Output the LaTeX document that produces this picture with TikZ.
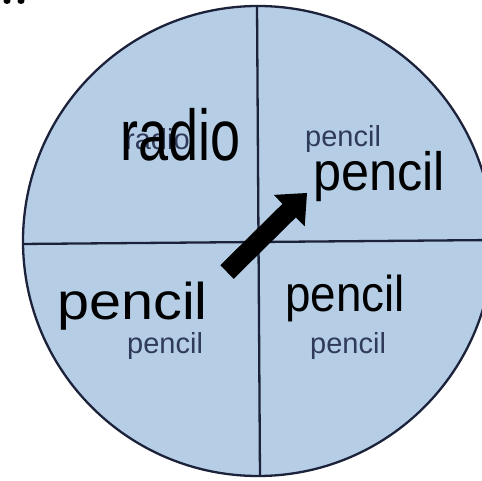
\documentclass[tikz,border=0pt]{standalone}
\usepackage{fontspec}
\setmainfont{Liberation Sans}
\definecolor{spinfill}{RGB}{181,206,230}
\definecolor{spinline}{RGB}{28,34,58}
\definecolor{printtxt}{RGB}{48,58,90}
\tikzset{
  printed/.style={anchor=base west, inner sep=0pt, text=printtxt, font=\fontsize{29}{30}\selectfont},
  hand/.style={anchor=base west, inner sep=0pt, text=black},
  divider/.style={draw=spinline, line width=2.3pt}
}
\begin{document}
\begin{tikzpicture}[x=1pt,y=-1pt]
\useasboundingbox (0,0) rectangle (482,481);
\clip (0,0) rectangle (482,481);
% spinner disc
\coordinate (c) at (258,241);
\fill[spinfill] (c) circle[radius=235];
\begin{scope}
  \clip (c) circle[radius=235];
  \coordinate (vt) at (257,4);
  \coordinate (vb) at (260,478);
  \coordinate (hl) at (20,244);
  \coordinate (hr) at (495,240);
  \draw[divider] (vt) -- (vb);
  \draw[divider] (hl) -- (hr);
\end{scope}
\draw[spinline, line width=2.3pt] (c) circle[radius=235];
% small marks at top-left corner
\fill[black] (7,1) ellipse[x radius=3.5, y radius=3];
\fill[black] (21,1) ellipse[x radius=3.5, y radius=3];
% printed labels
\node[printed] (pr) at (125,150) {radio};
\node[printed] (ptr) at (305,147) {pencil};
\node[printed] (pbl) at (127,353) {pencil};
\node[printed] (pbr) at (310,353) {pencil};
% handwritten labels
\node[hand, font=\fontsize{60}{60}\selectfont] (hr1) at (120,161) {\scalebox{0.9}[1.2]{radio}};
\node[hand, font=\fontsize{45}{45}\selectfont] (htr) at (313,191) {\scalebox{1.12}[1.2]{pencil}};
\node[hand, font=\fontsize{45}{45}\selectfont] (hbl) at (57,319) {\scalebox{1.28}[1.15]{pencil}};
\node[hand, font=\fontsize{42}{42}\selectfont] (hbr) at (285,311) {\scalebox{1.09}[1.2]{pencil}};
% spinner arrow
\fill[black] (220.3,265.2) -- (282.5,203.8) -- (273.7,194.9) -- (307,193)
  -- (304.7,226.3) -- (295.9,217.4) -- (233.7,278.8) -- cycle;
\end{tikzpicture}
\end{document}
